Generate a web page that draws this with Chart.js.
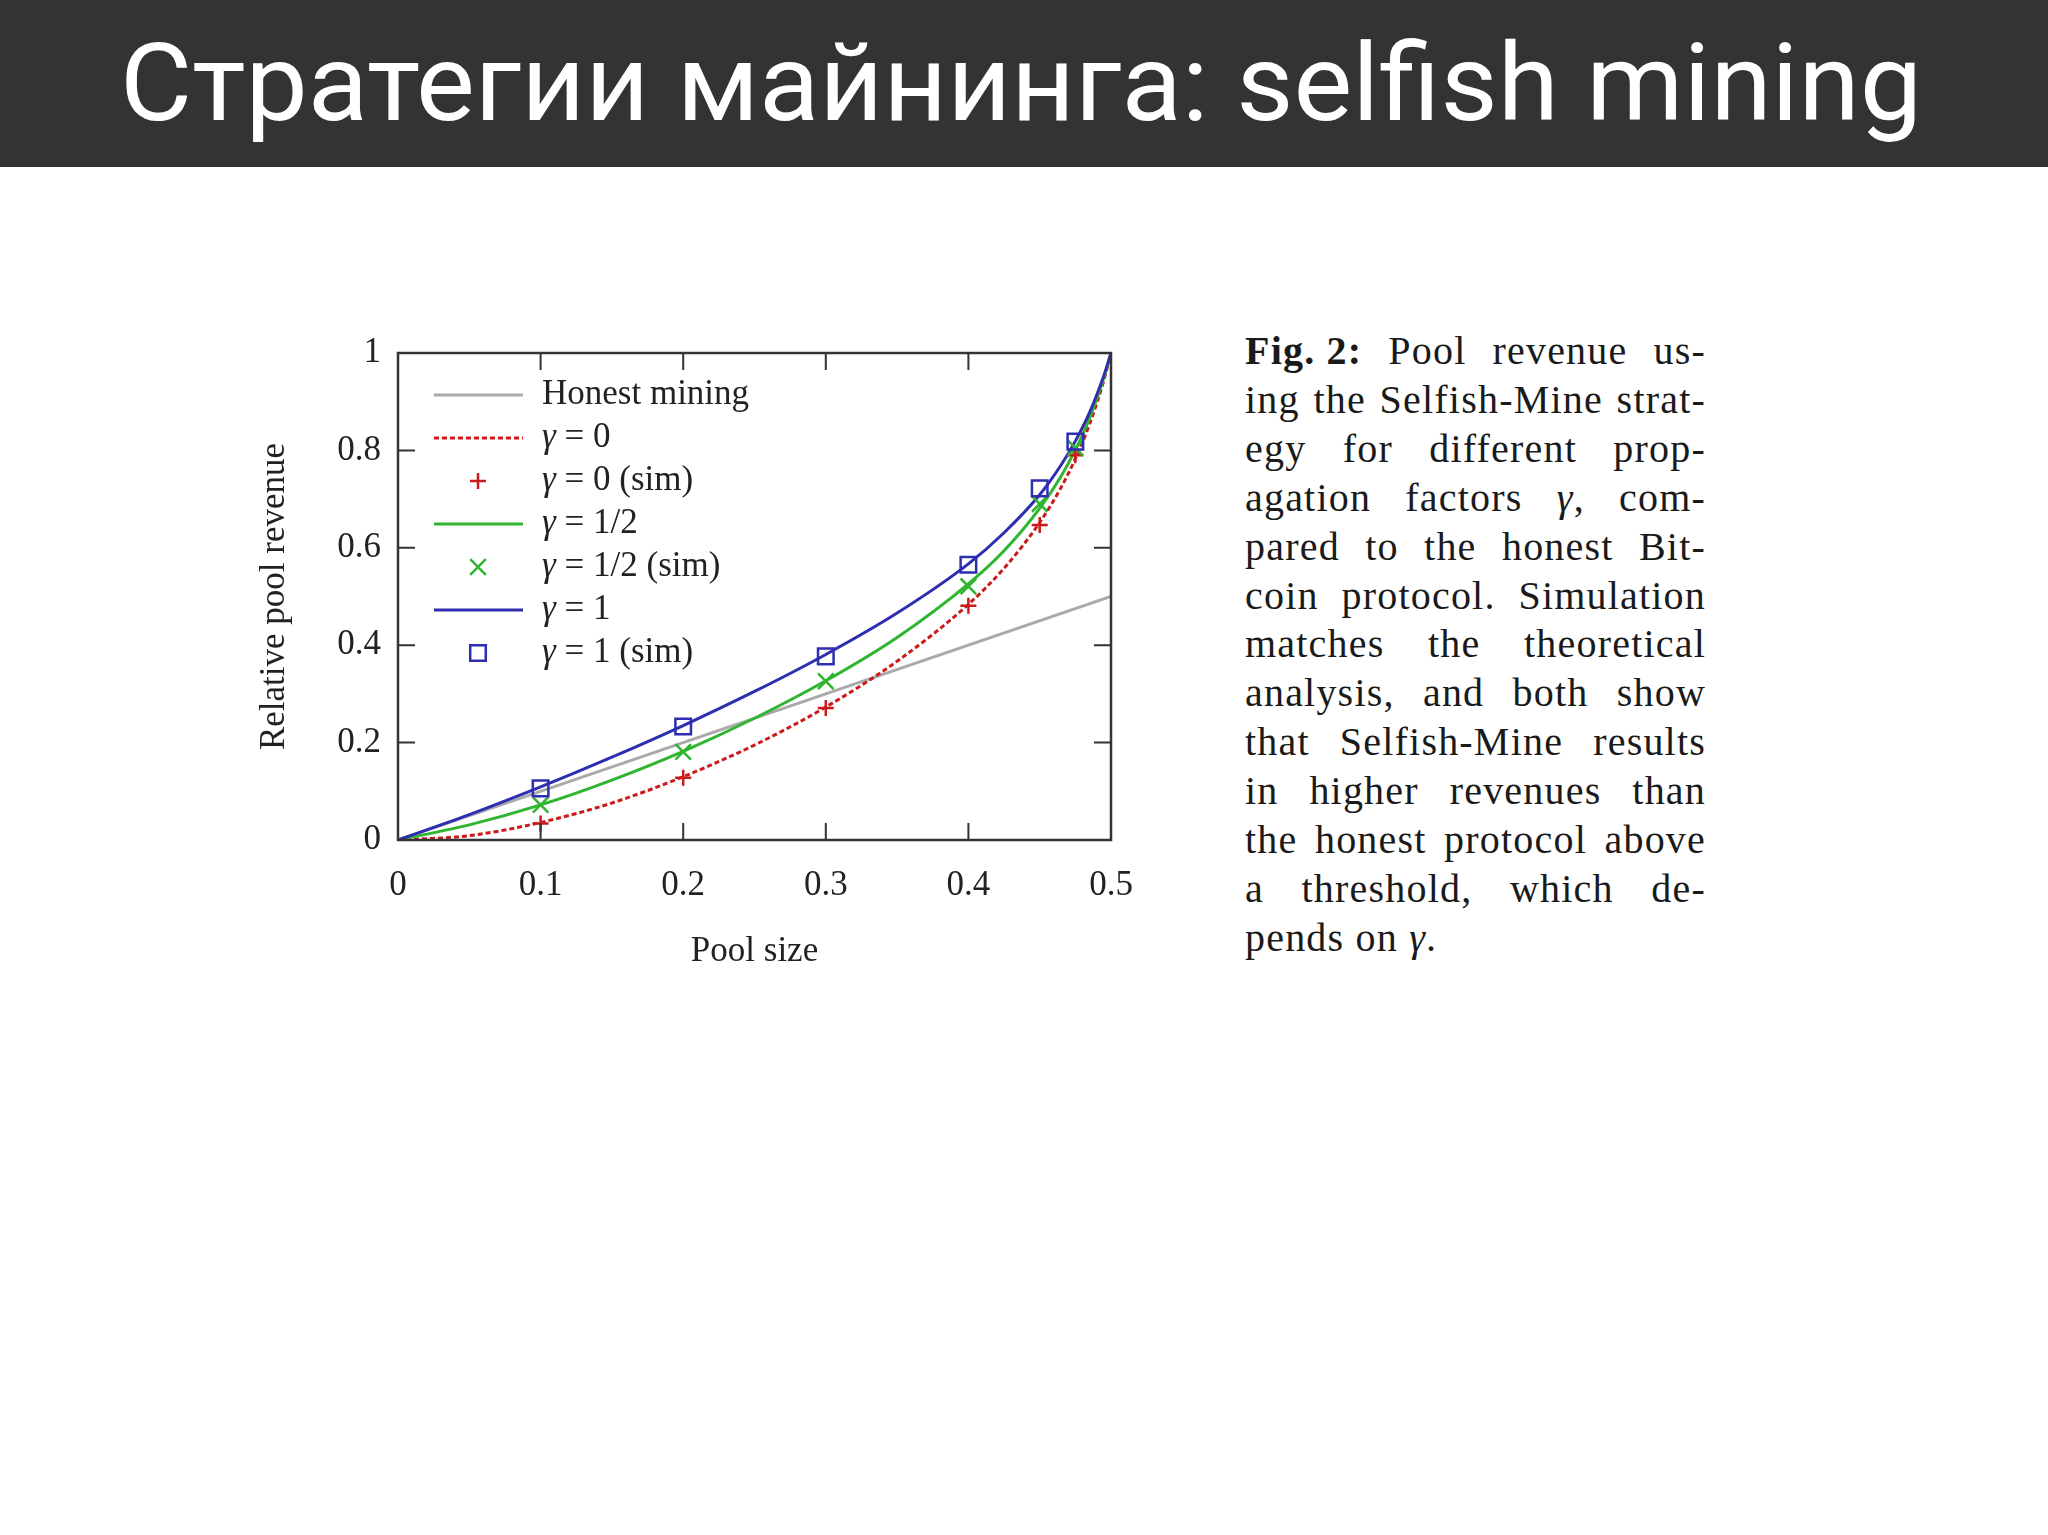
<!DOCTYPE html>
<html>
<head>
<meta charset="utf-8">
<script src="https://cdn.jsdelivr.net/npm/chart.js@4.4.0/dist/chart.umd.min.js"></script>
<style>
  html, body { margin: 0; padding: 0; background: #ffffff; }
  body { width: 2048px; height: 1535px; position: relative; overflow: hidden; }
  #header { position: absolute; left: 0; top: 0; width: 2048px; height: 167px; background: #333333; }
  #header span {
    position: absolute; left: 120px; top: 29px; color: #ffffff;
    font-family: Roboto, "Noto Sans", sans-serif; font-size: 108px; line-height: 108px;
    white-space: nowrap; transform-origin: left top;
  }
  #chartBox { position: absolute; left: 0; top: 180px; width: 1200px; height: 900px; }
  #caption {
    position: absolute; left: 1245px; top: 327px; width: 461px;
    font-family: "Liberation Serif", serif; font-size: 40px; line-height: 48.9px; color: #1a1a1a;
    letter-spacing: 1.2px;
  }
  #caption div { text-align: justify; text-align-last: justify; }
  #caption div.last { text-align: left; text-align-last: left; }
  #caption b { display: inline-block; }
</style>
</head>
<body>
<div id="header"><span id="headText">Стратегии майнинга: selfish mining</span></div>
<div id="chartBox"><canvas id="poolChart" width="1200" height="900"></canvas></div>
<div id="caption">
  <div><b>Fig. 2:</b> Pool revenue us-</div>
  <div>ing the Selfish-Mine strat-</div>
  <div>egy for different prop-</div>
  <div>agation factors <i>γ</i>, com-</div>
  <div>pared to the honest Bit-</div>
  <div>coin protocol. Simulation</div>
  <div>matches the theoretical</div>
  <div>analysis, and both show</div>
  <div>that Selfish-Mine results</div>
  <div>in higher revenues than</div>
  <div>the honest protocol above</div>
  <div>a threshold, which de-</div>
  <div class="last">pends on <i>γ</i>.</div>
</div>
<script>
// pool size (alpha) and relative revenue
const poolSize = [0, 0.05, 0.1, 0.15, 0.2, 0.25, 0.3, 0.35, 0.4, 0.425, 0.45, 0.465, 0.475, 0.485, 0.495, 0.5];
const revenueGamma0 = [0, 0.009, 0.036, 0.076, 0.130, 0.195, 0.273, 0.367, 0.484, 0.558, 0.652, 0.724, 0.783, 0.854, 0.944, 1];
const revenueGammaHalf = [0, 0.031, 0.072, 0.123, 0.182, 0.250, 0.327, 0.416, 0.526, 0.594, 0.681, 0.747, 0.801, 0.866, 0.949, 1];
const revenueGamma1 = [0, 0.052, 0.109, 0.170, 0.235, 0.305, 0.381, 0.466, 0.567, 0.631, 0.709, 0.770, 0.819, 0.878, 0.954, 1];

const honestSize = [0, 0.5];
const honestRevenue = [0, 0.5];

// simulation points
const simSize = [0.1, 0.2, 0.3, 0.4, 0.45, 0.475];
const simGamma0 = [0.034, 0.128, 0.271, 0.481, 0.647, 0.790];
const simGammaHalf = [0.072, 0.181, 0.326, 0.521, 0.690, 0.805];
const simGamma1 = [0.106, 0.233, 0.377, 0.565, 0.722, 0.818];

const xTicks = [0, 0.1, 0.2, 0.3, 0.4, 0.5];
const yTicks = [0, 0.2, 0.4, 0.6, 0.8, 1];

const serif = 'Liberation Serif';
const textColor = '#222222';

function pairs(xs, ys) {
  return xs.map((x, i) => ({ x: x, y: ys[i] }));
}

// stretch the header text to the width it has on the slide
function fitHeader() {
  const el = document.getElementById('headText');
  const w = el.getBoundingClientRect().width;
  el.style.transform = 'scaleX(' + (1802 / w) + ')';
}

// inward ticks on all four sides + the frame
const boxTicks = {
  id: 'boxTicks',
  afterDatasetsDraw(chart) {
    const { ctx, chartArea: a, scales } = chart;
    const len = 17;
    ctx.save();
    ctx.strokeStyle = '#333333';
    ctx.lineWidth = 2;
    ctx.beginPath();
    scales.x.ticks.forEach(t => {
      const px = scales.x.getPixelForValue(t.value);
      ctx.moveTo(px, a.bottom); ctx.lineTo(px, a.bottom - len);
      ctx.moveTo(px, a.top); ctx.lineTo(px, a.top + len);
    });
    scales.y.ticks.forEach(t => {
      const py = scales.y.getPixelForValue(t.value);
      ctx.moveTo(a.left, py); ctx.lineTo(a.left + len, py);
      ctx.moveTo(a.right, py); ctx.lineTo(a.right - len, py);
    });
    ctx.stroke();
    ctx.lineWidth = 2.5;
    ctx.strokeRect(a.left, a.top, a.right - a.left, a.bottom - a.top);
    ctx.restore();
  }
};

function drawMarker(ctx, style, r, x, y) {
  ctx.beginPath();
  if (style === 'cross') {
    ctx.moveTo(x - r, y); ctx.lineTo(x + r, y);
    ctx.moveTo(x, y - r); ctx.lineTo(x, y + r);
  } else if (style === 'crossRot') {
    const d = r * Math.SQRT1_2;
    ctx.moveTo(x - d, y - d); ctx.lineTo(x + d, y + d);
    ctx.moveTo(x - d, y + d); ctx.lineTo(x + d, y - d);
  } else {
    const s = r * Math.SQRT1_2;
    ctx.rect(x - s, y - s, 2 * s, 2 * s);
  }
  ctx.stroke();
}

// legend drawn inside the plot, upper left
const insideLegend = {
  id: 'insideLegend',
  afterDatasetsDraw(chart) {
    const { ctx, chartArea: a } = chart;
    ctx.save();
    ctx.textBaseline = 'middle';
    chart.data.datasets.forEach((ds, i) => {
      const y = a.top + 42 + i * 43;
      ctx.strokeStyle = ds.borderColor;
      if (ds.showLine === false) {
        ctx.lineWidth = ds.pointBorderWidth;
        drawMarker(ctx, ds.pointStyle, ds.pointRadius, a.left + 80, y);
      } else {
        ctx.lineWidth = ds.borderWidth;
        ctx.setLineDash(ds.borderDash || []);
        ctx.beginPath();
        ctx.moveTo(a.left + 36, y);
        ctx.lineTo(a.left + 125, y);
        ctx.stroke();
        ctx.setLineDash([]);
      }
      ctx.fillStyle = textColor;
      let tx = a.left + 144;
      let label = ds.label;
      if (label.startsWith('γ')) {
        ctx.font = 'italic 35px "' + serif + '"';
        ctx.fillText('γ', tx, y);
        tx += ctx.measureText('γ').width;
        label = label.slice(1);
      }
      ctx.font = '35px "' + serif + '"';
      ctx.fillText(label, tx, y);
    });
    ctx.restore();
  }
};

const red = '#cc1a1a';
const green = '#2fb52f';
const blue = '#2e2eb0';
const gray = '#aaaaaa';

const tickFont = { family: serif, size: 35 };

function start() {
  fitHeader();
  const ctx = document.getElementById('poolChart').getContext('2d');
  new Chart(ctx, {
    type: 'line',
    data: {
      datasets: [
        {
          label: 'Honest mining',
          data: pairs(honestSize, honestRevenue),
          borderColor: gray, borderWidth: 3, pointRadius: 0, order: 10
        },
        {
          label: 'γ = 0',
          data: pairs(poolSize, revenueGamma0),
          borderColor: red, borderWidth: 3, borderDash: [5, 3], pointRadius: 0,
          cubicInterpolationMode: 'monotone', order: 9
        },
        {
          label: 'γ = 0 (sim)',
          data: pairs(simSize, simGamma0),
          showLine: false, borderColor: red, backgroundColor: 'rgba(0,0,0,0)',
          pointStyle: 'cross', pointRadius: 8, pointBorderWidth: 2.5, order: 3
        },
        {
          label: 'γ = 1/2',
          data: pairs(poolSize, revenueGammaHalf),
          borderColor: green, borderWidth: 3, pointRadius: 0,
          cubicInterpolationMode: 'monotone', order: 8
        },
        {
          label: 'γ = 1/2 (sim)',
          data: pairs(simSize, simGammaHalf),
          showLine: false, borderColor: green, backgroundColor: 'rgba(0,0,0,0)',
          pointStyle: 'crossRot', pointRadius: 11, pointBorderWidth: 2.5, order: 2
        },
        {
          label: 'γ = 1',
          data: pairs(poolSize, revenueGamma1),
          borderColor: blue, borderWidth: 3, pointRadius: 0,
          cubicInterpolationMode: 'monotone', order: 7
        },
        {
          label: 'γ = 1 (sim)',
          data: pairs(simSize, simGamma1),
          showLine: false, borderColor: blue, backgroundColor: 'rgba(0,0,0,0)',
          pointStyle: 'rect', pointRadius: 11, pointBorderWidth: 2.5, order: 1
        }
      ]
    },
    options: {
      responsive: false,
      animation: false,
      layout: { padding: { left: 240, top: 173, right: 89, bottom: 100 } },
      plugins: { legend: { display: false }, tooltip: { enabled: false } },
      scales: {
        x: {
          type: 'linear', min: 0, max: 0.5,
          afterBuildTicks: s => { s.ticks = xTicks.map(v => ({ value: v })); },
          afterFit: s => { s.height = 140; },
          grid: { display: false },
          border: { display: false },
          ticks: { color: textColor, font: tickFont, padding: 17, maxRotation: 0, callback: v => String(v) },
          title: { display: true, text: 'Pool size', color: textColor, font: tickFont, padding: { top: 0, bottom: 7 } }
        },
        y: {
          type: 'linear', min: 0, max: 1,
          afterBuildTicks: s => { s.ticks = yTicks.map(v => ({ value: v })); },
          afterFit: s => { s.width = 158; },
          grid: { display: false },
          border: { display: false },
          ticks: { color: textColor, font: tickFont, padding: 9, callback: v => String(v) },
          title: { display: true, text: 'Relative pool revenue', color: textColor, font: tickFont, padding: { top: 14, bottom: 0 } }
        }
      }
    },
    plugins: [boxTicks, insideLegend]
  });
}

window.addEventListener('DOMContentLoaded', () => {
  if (document.fonts && document.fonts.ready) {
    document.fonts.ready.then(start);
  } else {
    start();
  }
});
</script>
</body>
</html>
